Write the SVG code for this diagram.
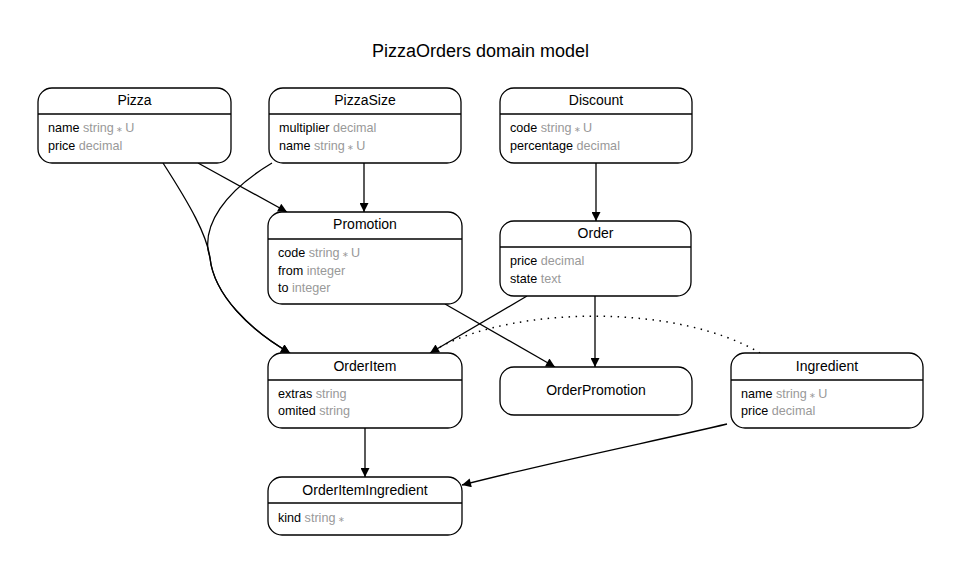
<svg xmlns="http://www.w3.org/2000/svg" width="961" height="574" viewBox="0 0 961 574">
<style>
text{font-family:"Liberation Sans",Arial,sans-serif;fill:#000}
.title{font-size:18px;text-anchor:middle}
.nt{font-size:14px;text-anchor:middle}
.at{font-size:12.6px}
.ty{fill:#999}
.st{font-size:8px;fill:#999}
.box{fill:#fff;stroke:#000;stroke-width:1.3}
.div{stroke:#000;stroke-width:1.3}
.e{fill:none;stroke:#000;stroke-width:1.3}
.dot{fill:none;stroke:#000;stroke-width:1.5;stroke-dasharray:1.5 5.5}
</style>
<defs>
<marker id="arr" viewBox="0 0 10 10" refX="10" refY="5" markerWidth="12" markerHeight="9" orient="auto" markerUnits="userSpaceOnUse">
<path d="M0,0 L10,5 L0,10 z" fill="#000"/>
</marker>
</defs>
<rect width="961" height="574" fill="#fff"/>
<text class="title" x="480.5" y="57">PizzaOrders domain model</text>

<g id="connectors">
<path class="e" d="M198,163 L287,212" marker-end="url(#arr)"/>
<path class="e" d="M364,163 L364,212" marker-end="url(#arr)"/>
<path class="e" d="M163,163 C190,205 207,235 210,258 C214,295 250,330 290,353" marker-end="url(#arr)"/>
<path class="e" d="M272,163 C222,193 205,225 208,250 L210,258 C214,295 250,330 290,353" marker-end="url(#arr)"/>
<path class="e" d="M596,163 L596,221" marker-end="url(#arr)"/>
<path class="e" d="M527,296 L430,353" marker-end="url(#arr)"/>
<path class="e" d="M445,304 L555,367" marker-end="url(#arr)"/>
<path class="e" d="M595,296 L595,367" marker-end="url(#arr)"/>
<path class="e" d="M365,428 L365,477" marker-end="url(#arr)"/>
<path class="e" d="M727,424 C660,440 560,460 462,485" marker-end="url(#arr)"/>
<path class="dot" d="M440,347 C520,305 680,305 760,353"/>
</g>

<g id="Pizza">
<rect class="box" x="38" y="88" width="193" height="75" rx="14"/>
<line class="div" x1="38" y1="114" x2="231" y2="114"/>
<text class="nt" x="134.5" y="105">Pizza</text>
<text class="at" x="48" y="132">name <tspan class="ty">string</tspan><tspan class="st"> ∗ </tspan><tspan class="ty">U</tspan></text>
<text class="at" x="48" y="150">price <tspan class="ty">decimal</tspan></text>
</g>

<g id="PizzaSize">
<rect class="box" x="269" y="88" width="192" height="75" rx="14"/>
<line class="div" x1="269" y1="114" x2="461" y2="114"/>
<text class="nt" x="365" y="105">PizzaSize</text>
<text class="at" x="279" y="132">multiplier <tspan class="ty">decimal</tspan></text>
<text class="at" x="279" y="150">name <tspan class="ty">string</tspan><tspan class="st"> ∗ </tspan><tspan class="ty">U</tspan></text>
</g>

<g id="Discount">
<rect class="box" x="500" y="88" width="192" height="75" rx="14"/>
<line class="div" x1="500" y1="114" x2="692" y2="114"/>
<text class="nt" x="596" y="105">Discount</text>
<text class="at" x="510" y="132">code <tspan class="ty">string</tspan><tspan class="st"> ∗ </tspan><tspan class="ty">U</tspan></text>
<text class="at" x="510" y="150">percentage <tspan class="ty">decimal</tspan></text>
</g>

<g id="Promotion">
<rect class="box" x="268" y="212" width="194" height="92" rx="14"/>
<line class="div" x1="268" y1="239" x2="462" y2="239"/>
<text class="nt" x="365" y="229">Promotion</text>
<text class="at" x="278" y="257">code <tspan class="ty">string</tspan><tspan class="st"> ∗ </tspan><tspan class="ty">U</tspan></text>
<text class="at" x="278" y="275">from <tspan class="ty">integer</tspan></text>
<text class="at" x="278" y="292">to <tspan class="ty">integer</tspan></text>
</g>

<g id="Order">
<rect class="box" x="500" y="221" width="191" height="75" rx="14"/>
<line class="div" x1="500" y1="247" x2="691" y2="247"/>
<text class="nt" x="595.5" y="238">Order</text>
<text class="at" x="510" y="265">price <tspan class="ty">decimal</tspan></text>
<text class="at" x="510" y="283">state <tspan class="ty">text</tspan></text>
</g>

<g id="OrderItem">
<rect class="box" x="268" y="353" width="194" height="75" rx="14"/>
<line class="div" x1="268" y1="380" x2="462" y2="380"/>
<text class="nt" x="365" y="371">OrderItem</text>
<text class="at" x="278" y="398">extras <tspan class="ty">string</tspan></text>
<text class="at" x="278" y="415">omited <tspan class="ty">string</tspan></text>
</g>

<g id="OrderPromotion">
<rect class="box" x="500" y="367" width="192" height="48" rx="14"/>
<text class="nt" x="596" y="395">OrderPromotion</text>
</g>

<g id="Ingredient">
<rect class="box" x="731" y="353" width="192" height="75" rx="14"/>
<line class="div" x1="731" y1="380" x2="923" y2="380"/>
<text class="nt" x="827" y="371">Ingredient</text>
<text class="at" x="741" y="398">name <tspan class="ty">string</tspan><tspan class="st"> ∗ </tspan><tspan class="ty">U</tspan></text>
<text class="at" x="741" y="415">price <tspan class="ty">decimal</tspan></text>
</g>

<g id="OrderItemIngredient">
<rect class="box" x="268" y="477" width="194" height="58" rx="14"/>
<line class="div" x1="268" y1="503" x2="462" y2="503"/>
<text class="nt" x="365" y="495">OrderItemIngredient</text>
<text class="at" x="278" y="522">kind <tspan class="ty">string</tspan><tspan class="st"> ∗</tspan></text>
</g>
</svg>
